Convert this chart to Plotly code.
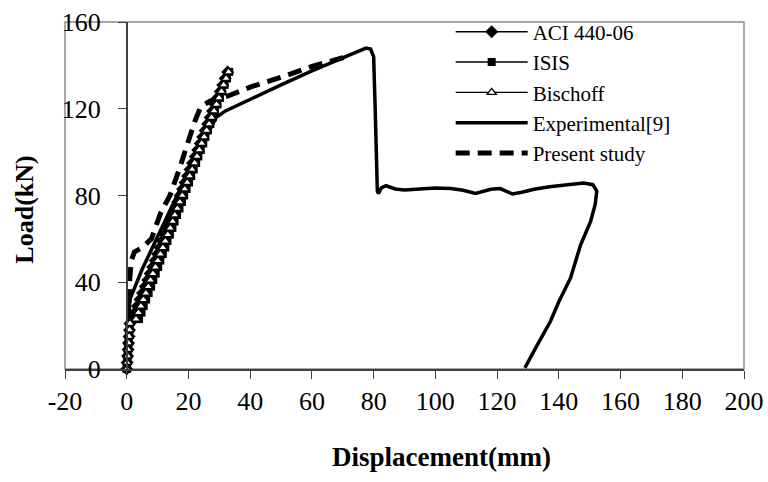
import plotly.graph_objects as go

# ---- data ----
loads = [0, 3, 6, 9, 12, 15, 18, 21,
         23, 26, 29, 32, 35, 38, 41, 44, 47, 50, 53, 56, 59, 62, 65, 68, 71, 74,
         77, 80, 83, 86, 89, 92, 95, 98, 101, 104, 107, 110, 113, 116, 119, 122,
         125, 128, 131, 134, 137]

aci_defl = [0, 0.15, 0.3, 0.45, 0.6, 0.75, 0.9, 1.05,
            1.9, 2.7, 3.5, 4.3, 5.1, 6.0, 6.8, 7.6, 8.4, 9.2, 10.0, 10.8, 11.6, 12.4,
            13.2, 14.0, 14.9, 15.7, 16.5, 17.3, 18.1, 18.9, 19.7, 20.5, 21.3, 22.2,
            23.0, 23.8, 24.6, 25.4, 26.2, 27.0, 27.8, 28.6, 29.4, 30.3, 31.1, 31.9, 32.7]

isis_defl = [0, 0.15, 0.3, 0.45, 0.6, 0.75, 0.9, 1.05,
             4.0, 4.8, 5.5, 6.3, 7.1, 7.9, 8.6, 9.4, 10.2, 10.9, 11.7, 12.5, 13.2,
             14.0, 14.8, 15.5, 16.3, 17.1, 17.9, 18.6, 19.4, 20.2, 20.9, 21.7, 22.5,
             23.2, 24.0, 24.8, 25.5, 26.3, 27.1, 27.9, 28.6, 29.4, 30.2, 30.9, 31.7,
             32.5, 33.2]

bischoff_defl = [0, 0.15, 0.3, 0.45, 0.6, 0.75, 0.9, 1.05,
                 3.0, 3.8, 4.6, 5.4, 6.2, 7.0, 7.7, 8.5, 9.3, 10.1, 10.9, 11.7, 12.5,
                 13.3, 14.1, 14.9, 15.6, 16.4, 17.2, 18.0, 18.8, 19.6, 20.4, 21.2,
                 22.0, 22.8, 23.5, 24.3, 25.1, 25.9, 26.7, 27.5, 28.3, 29.1, 29.9,
                 30.7, 31.4, 32.2, 33.0]

exp_defl = [0, 0.3, 0.6, 1.0, 5, 10, 15, 20, 25, 29, 32, 40, 50, 60, 70, 75,
            77.5, 79, 80, 80.5, 80.8, 81.2, 81.6, 82.5, 84, 87, 90, 95, 100, 105,
            109, 113, 116, 118, 121, 123, 125, 128, 132, 137, 142, 148, 151,
            152.3, 151.8, 150.3, 147, 143.8, 140, 137.3, 133, 129]
exp_load = [0, 12, 25, 32, 46, 61, 76, 91, 105, 116, 119, 124.5, 131, 137.5,
            143.5, 146.8, 148, 147.5, 144, 120, 95, 82, 81, 83.5, 84.5, 83, 82.5,
            83, 83.5, 83.2, 82.4, 80.9, 82.2, 82.9, 83.2, 82, 80.7, 81.5, 82.9, 84,
            84.8, 85.8, 85, 82, 76, 68, 57, 42, 31, 22, 11, 0.5]

present_defl = [0, 0.3, 0.6, 1.0, 1.5, 2.5, 5, 8, 11, 14, 17, 20, 22, 24, 27,
                33, 40, 50, 60, 70, 72]
present_load = [0, 15, 30, 42, 50, 54, 56, 60, 72, 80, 92, 106, 114, 121, 123.5,
                126, 130, 134.5, 139.5, 143.5, 144.5]

x_ticks = [-20, 0, 20, 40, 60, 80, 100, 120, 140, 160, 180, 200]
x_tick_text = ["-20", "0", "20", "40", "60", "80", "100", "120", "140", "160",
               "180", "200"]
y_ticks = [0, 40, 80, 120, 160]

FONT = "Liberation Serif, Times New Roman, serif"
AXC = "#404040"

fig = go.Figure()

fig.add_trace(go.Scatter(
    x=exp_defl, y=exp_load, mode="lines", name="Experimental[9]",
    line=dict(color="black", width=3.5), legendrank=4, cliponaxis=False))
fig.add_trace(go.Scatter(
    x=present_defl, y=present_load, mode="lines", name="Present study",
    line=dict(color="black", width=5, dash="14px,8px"), legendrank=5,
    cliponaxis=False))
fig.add_trace(go.Scatter(
    x=aci_defl, y=loads, mode="lines+markers", name="ACI 440-06",
    line=dict(color="black", width=1.5),
    marker=dict(symbol="diamond", size=10, color="black"), legendrank=1,
    cliponaxis=False))
fig.add_trace(go.Scatter(
    x=isis_defl, y=loads, mode="lines+markers", name="ISIS",
    line=dict(color="black", width=1.5),
    marker=dict(symbol="square", size=8, color="black"), legendrank=2,
    cliponaxis=False))
fig.add_trace(go.Scatter(
    x=bischoff_defl, y=loads, mode="lines+markers", name="Bischoff",
    line=dict(color="black", width=1.2),
    marker=dict(symbol="triangle-up", size=8, color="white",
                line=dict(color="black", width=1.3)), legendrank=3,
    cliponaxis=False))

fig.update_layout(
    width=768, height=482,
    margin=dict(l=65, r=24, t=17, b=113),
    paper_bgcolor="white", plot_bgcolor="white",
    font=dict(family=FONT, size=26, color="black"),
    showlegend=True,
    legend=dict(x=0.568, y=1.03, xanchor="left", yanchor="top",
                font=dict(family=FONT, size=21, color="black"),
                bgcolor="rgba(0,0,0,0)", itemwidth=72, tracegroupgap=0),
    xaxis=dict(range=[-20, 200], tickvals=x_ticks, ticktext=x_tick_text,
               ticks="outside", ticklen=8, automargin=False,
               tickcolor=AXC, showline=True, linecolor=AXC, linewidth=1.5,
               showgrid=False, zeroline=False, ticklabelstandoff=0,
               tickfont=dict(family=FONT, size=26, color="black")),
    yaxis=dict(range=[0, 160], tickvals=y_ticks, ticks="outside", ticklen=8,
               tickcolor=AXC, showline=True, linecolor=AXC, linewidth=1.5,
               showgrid=False, zeroline=False, anchor="free", automargin=False,
               position=20 / 220, ticklabelstandoff=12,
               tickfont=dict(family=FONT, size=26, color="black")),
    shapes=[dict(type="rect", xref="paper", yref="paper", x0=0, x1=1, y0=0, y1=1,
                 line=dict(color="#8c8c8c", width=1.5), layer="below")],
    annotations=[
        dict(text="<b>Displacement(mm)</b>", xref="paper", yref="paper",
             x=0.555, y=-0.255, xanchor="center", yanchor="middle",
             showarrow=False, font=dict(family=FONT, size=27, color="black")),
        dict(text="<b>Load(kN)</b>", xref="paper", yref="paper",
             x=-0.06, y=0.46, xanchor="center", yanchor="middle", textangle=-90,
             showarrow=False, font=dict(family=FONT, size=26, color="black")),
    ],
)

fig.write_html("out.html")
